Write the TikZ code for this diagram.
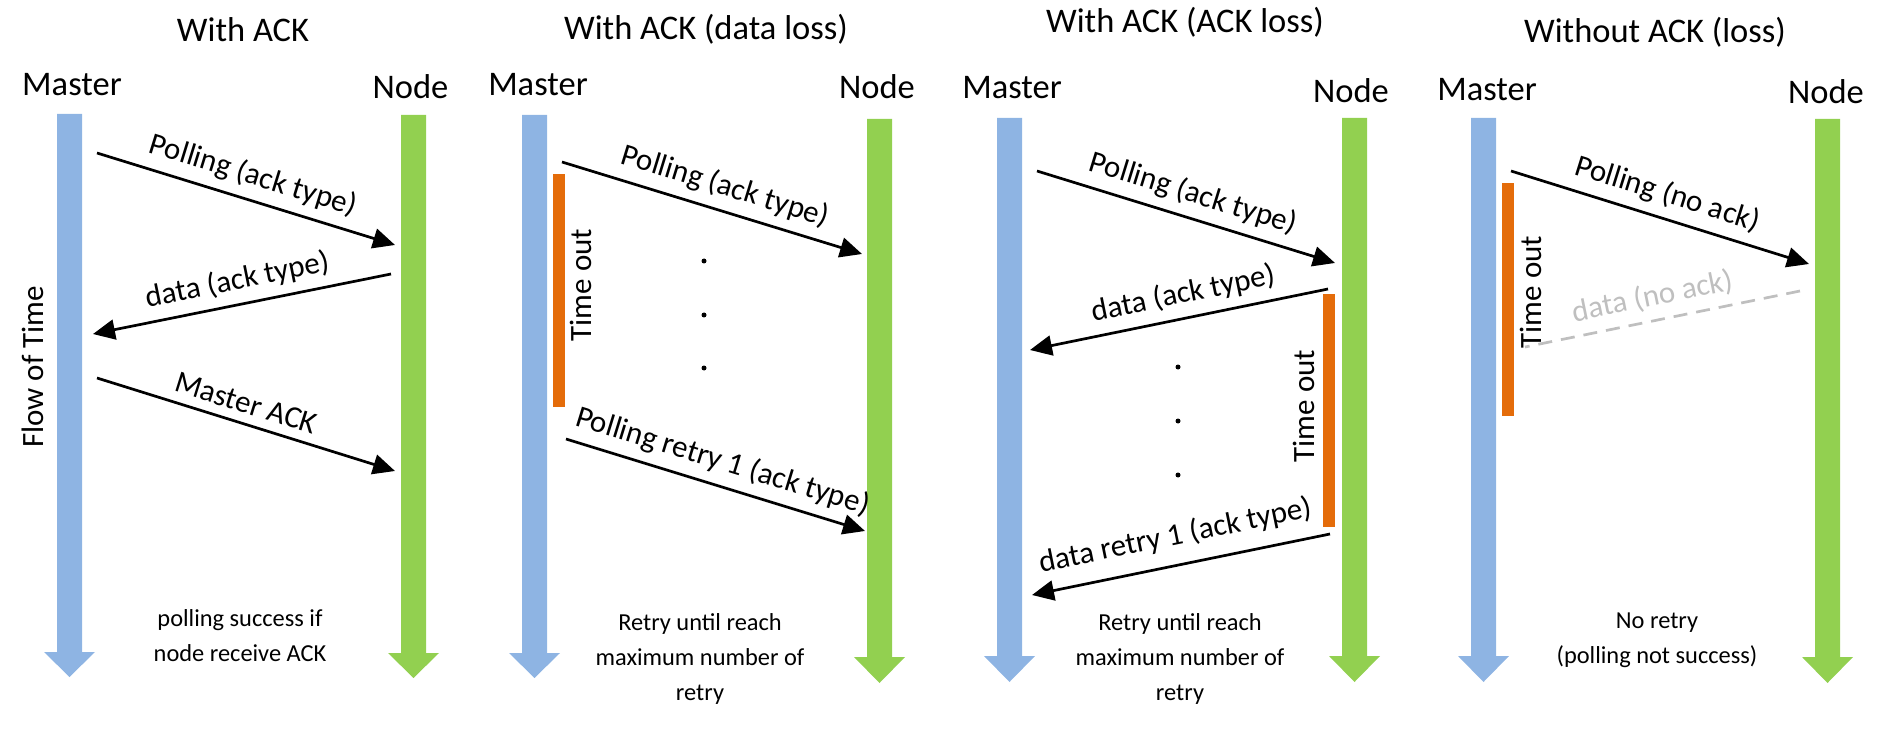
\documentclass[tikz,border=0pt]{standalone}
\usepackage{fontspec}
\setmainfont{Carlito}
\usetikzlibrary{arrows.meta}
\definecolor{mblue}{HTML}{8EB4E3}
\definecolor{ngreen}{HTML}{92D050}
\definecolor{torange}{HTML}{E46C0A}
\definecolor{lgray}{HTML}{BFBFBF}
\newcommand\lifebar[5]{%
  \fill[#1] (#2-12.5,#3) -- (#2+12.5,#3) -- (#2+12.5,#4) -- (#2+25.5,#4) -- (#2,#5)
    -- (#2-25.5,#4) -- (#2-12.5,#4) -- cycle;}
\begin{document}
\begin{tikzpicture}[x=1pt,y=-1pt,
  msg/.style={line width=2.7pt,-{Triangle[length=22pt,width=20pt]}},
  lost/.style={line width=2.7pt,lgray,dash pattern=on 14pt off 9pt},
  lbl/.style={font=\fontsize{31}{37}\selectfont,sloped,above,inner sep=9pt},
  ttl/.style={font=\fontsize{34.5}{40}\selectfont},
  actor/.style={font=\fontsize{34.5}{40}\selectfont},
  note/.style={font=\fontsize{24.4}{35}\selectfont,align=center},
  tout/.style={font=\fontsize{31}{37}\selectfont,rotate=90},
  dotm/.style={fill=black,circle,inner sep=0pt,minimum size=5pt},
]
\useasboundingbox (0,0) rectangle (1885,735);

% ---------- titles ----------
\node[ttl] (t1) at (243,30) {With ACK};
\node[ttl] (t2) at (706,29) {With ACK (data loss)};
\node[ttl] (t3) at (1185,22) {With ACK (ACK loss)};
\node[ttl] (t4) at (1655,32) {Without ACK (loss)};

% ---------- actors ----------
\node[actor] (m1) at (72,85) {Master};
\node[actor] (n1) at (410.5,87) {Node};
\node[actor] (m2) at (538,85) {Master};
\node[actor] (n2) at (877,87) {Node};
\node[actor] (m3) at (1012,88) {Master};
\node[actor] (n3) at (1351,91) {Node};
\node[actor] (m4) at (1487,90) {Master};
\node[actor] (n4) at (1826,92) {Node};

% ---------- life lines ----------
\lifebar{mblue}{69.5}{114}{652}{677}
\lifebar{ngreen}{413.5}{115}{653}{678}
\lifebar{mblue}{534.5}{115}{653}{678}
\lifebar{ngreen}{879.5}{119}{657}{683}
\lifebar{mblue}{1009.5}{118}{656}{682}
\lifebar{ngreen}{1354.5}{118}{656}{682}
\lifebar{mblue}{1483.5}{118}{656}{682}
\lifebar{ngreen}{1827.5}{119}{657}{683}

% ---------- time-out bars ----------
\fill[torange] (553,174) rectangle (565,407);
\fill[torange] (1323,294) rectangle (1335,527);
\fill[torange] (1502,183) rectangle (1514,416);

\node[tout] (flow) at (33,367) {Flow of Time};
\node[tout] (to2) at (581,285) {Time out};
\node[tout] (to3) at (1304,406) {Time out};
\node[tout] (to4) at (1531,292) {Time out};

% ---------- panel 1 ----------
\coordinate (a1s) at (97,153);  \coordinate (a1e) at (395,245);
\coordinate (b1s) at (391,274); \coordinate (b1e) at (93,334);
\coordinate (c1s) at (97,378);  \coordinate (c1e) at (395,471);
\draw[msg] (a1s) -- node[lbl] (la1) {Polling (ack type)} (a1e);
\draw[msg] (b1s) -- node[lbl] (lb1) {data (ack type)} (b1e);
\draw[msg] (c1s) -- node[lbl,pos=0.48] (lc1) {Master ACK} (c1e);
\node[note] (note1) at (240,635.5) {polling success if\\node receive ACK};

% ---------- panel 2 ----------
\coordinate (a2s) at (562,162); \coordinate (a2e) at (862,254);
\coordinate (b2s) at (566,439); \coordinate (b2e) at (865,531);
\draw[msg] (a2s) -- node[lbl,pos=0.52] (la2) {Polling (ack type)} (a2e);
\draw[msg] (b2s) -- node[lbl] (lb2) {Polling retry 1 (ack type)} (b2e);
\node[dotm] (d21) at (704,261) {};
\node[dotm] (d22) at (704,315) {};
\node[dotm] (d23) at (704,368) {};
\node[note] (note2) at (700,659) {Retry until reach\\maximum number of\\retry};

% ---------- panel 3 ----------
\coordinate (a3s) at (1037,171); \coordinate (a3e) at (1335,263);
\coordinate (b3s) at (1328,289); \coordinate (b3e) at (1030,350);
\coordinate (c3s) at (1330,534); \coordinate (c3e) at (1032,595);
\draw[msg] (a3s) -- node[lbl] (la3) {Polling (ack type)} (a3e);
\draw[msg] (b3s) -- node[lbl,pos=0.47] (lb3) {data (ack type)} (b3e);
\draw[msg] (c3s) -- node[lbl,pos=0.5,inner sep=14pt] (lc3) {data retry 1 (ack type)} (c3e);
\node[dotm] (d31) at (1178,367) {};
\node[dotm] (d32) at (1178,421) {};
\node[dotm] (d33) at (1178,475) {};
\node[note] (note3) at (1180,659) {Retry until reach\\maximum number of\\retry};

% ---------- panel 4 ----------
\coordinate (a4s) at (1511,171); \coordinate (a4e) at (1809,264);
\coordinate (b4s) at (1800,291); \coordinate (b4e) at (1525,347);
\draw[msg] (a4s) -- node[lbl] (la4) {Polling (no ack)} (a4e);
\draw[lost] (b4s) -- node[lbl,text=lgray,pos=0.52] (lb4) {data (no ack)} (b4e);
\node[note] (note4) at (1657,640.5) {No retry\\(polling not success)};
\end{tikzpicture}
\end{document}
